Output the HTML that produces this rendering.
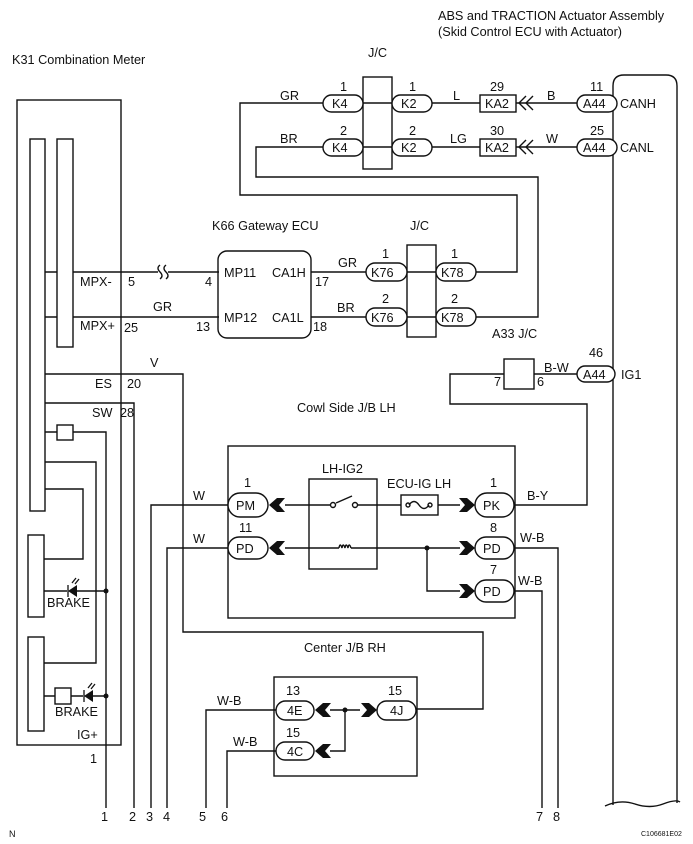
<!DOCTYPE html>
<html><head><meta charset="utf-8"><style>
body{margin:0;background:#fff}
svg{display:block}
text{font-family:"Liberation Sans",Arial,sans-serif;font-size:12.7px;fill:#111}
</style></head><body>
<svg width="693" height="844" viewBox="0 0 693 844" xmlns="http://www.w3.org/2000/svg">
<g fill="none" stroke="#111" stroke-width="1.4">
<rect x="17" y="100" width="104" height="645"/>
<rect x="30" y="139" width="15" height="372"/>
<rect x="57" y="139" width="16" height="208"/>
<rect x="28" y="535" width="16" height="82"/>
<rect x="28" y="637" width="16" height="94"/>
<rect x="57" y="425" width="16" height="15"/>
<rect x="55" y="688" width="16" height="16"/>
<path d="M45 272H57M73 272H158M168 272H219"/>
<path d="M160 265q-4 3 0 7t0 7M166 265q-4 3 0 7t0 7"/>
<path d="M45 317H57M73 317H219"/>
<path d="M45 374H183V632H483V709H416"/>
<path d="M45 403H134V808"/>
<path d="M45 432H57M73 432H106V808"/>
<path d="M45 462H96V663H44"/>
<path d="M45 489H83V559H44"/>
<path d="M44 591H67M77 591H106"/>
<path d="M44 696H55M71 696H83M93 696H106"/>
<path d="M151 808V505H228"/>
<path d="M167 808V548H228"/>
<path d="M206 808V710H276"/>
<path d="M227 808V751H276"/>
<path d="M323 103H240V195H517V272H476"/>
<path d="M323 147H256V177H538V317H476"/>
<rect x="363" y="77" width="29" height="92"/>
<path d="M363 103H392M363 147H392"/>
<path d="M432 103H480M516 103H577M432 147H480M516 147H577"/>
<rect x="480" y="95" width="36" height="17"/>
<rect x="480" y="139" width="36" height="17"/>
<path d="M526 96l-7 7 7 7M533 96l-7 7 7 7M526 140l-7 7 7 7M533 140l-7 7 7 7"/>
<path d="M613 805V86q0-11 11-11H666q11 0 11 11V803"/>
<path d="M605 806q15-7 30-2t28 0 17-2"/>
<rect x="218" y="251" width="93" height="87" rx="9"/>
<path d="M311 272H366M311 317H366"/>
<rect x="407" y="245" width="29" height="92"/>
<path d="M407 272H436M407 317H436"/>
<rect x="504" y="359" width="30" height="30"/>
<path d="M534 374H577M504 374H450V404H587V505H514"/>
<rect x="228" y="446" width="287" height="172"/>
<rect x="309" y="479" width="68" height="90"/>
<path d="M285 505H330M358 505H401M438 505H460"/>
<path d="M336 503L352 496"/>
<circle cx="333" cy="505" r="2.5"/><circle cx="355" cy="505" r="2.5"/>
<rect x="401" y="495" width="37" height="20"/>
<path d="M409 505q5-7 10 0t10 0"/>
<circle cx="408" cy="505" r="2"/><circle cx="430" cy="505" r="2"/>
<path d="M285 548H339M351 548H460"/>
<path d="M339 548q1-6 3 0q1-6 3 0q1-6 3 0q1-6 3 0"/>
<path d="M427 548V591H460"/>
<path d="M514 548H558V808M514 591H542V808"/>
<rect x="274" y="677" width="143" height="99"/>
<path d="M330 710H360M345 710V751H330"/>
</g>
<g fill="#fff" stroke="#111" stroke-width="1.4">
<rect x="323" y="95" width="40" height="17" rx="8.5"/>
<rect x="323" y="139" width="40" height="17" rx="8.5"/>
<rect x="392" y="95" width="40" height="17" rx="8.5"/>
<rect x="392" y="139" width="40" height="17" rx="8.5"/>
<rect x="577" y="95" width="40" height="17" rx="8.5"/>
<rect x="577" y="139" width="40" height="17" rx="8.5"/>
<rect x="366" y="263" width="41" height="18" rx="9"/>
<rect x="366" y="308" width="41" height="18" rx="9"/>
<rect x="436" y="263" width="40" height="18" rx="9"/>
<rect x="436" y="308" width="40" height="18" rx="9"/>
<rect x="577" y="366" width="38" height="16" rx="8"/>
<rect x="228" y="493" width="40" height="24" rx="12"/>
<rect x="228" y="537" width="40" height="22" rx="11"/>
<rect x="475" y="493" width="39" height="24" rx="12"/>
<rect x="475" y="537" width="39" height="22" rx="11"/>
<rect x="475" y="580" width="39" height="22" rx="11"/>
<rect x="276" y="701" width="38" height="19" rx="9.5"/>
<rect x="276" y="742" width="38" height="18" rx="9"/>
<rect x="377" y="701" width="39" height="19" rx="9.5"/>
</g>
<g fill="#111">
<path d="M269 505l8-7h8l-6 7 6 7h-8z"/>
<path d="M269 548l8-7h8l-6 7 6 7h-8z"/>
<path d="M475 505l-8-7h-8l6 7-6 7h8z"/>
<path d="M475 548l-8-7h-8l6 7-6 7h8z"/>
<path d="M475 591l-8-7h-8l6 7-6 7h8z"/>
<path d="M315 710l8-7h8l-6 7 6 7h-8z"/>
<path d="M315 751l8-7h8l-6 7 6 7h-8z"/>
<path d="M377 710l-8-7h-8l6 7-6 7h8z"/>
<circle cx="427" cy="548" r="2.5"/>
<circle cx="345" cy="710" r="2.5"/>
<circle cx="106" cy="591" r="2.5"/>
<circle cx="106" cy="696" r="2.5"/>
<path d="M68 591l9-6v12z"/><path d="M84 696l9-6v12z"/>
</g>
<g stroke="#111" stroke-width="1.3"><path d="M68 585v12M84 690v12M72 583l4-5M75 584l4-5M88 688l4-5M91 689l4-5"/></g>
<text x="438" y="20">ABS and TRACTION Actuator Assembly</text>
<text x="438" y="36">(Skid Control ECU with Actuator)</text>
<text x="12" y="64">K31 Combination Meter</text>
<text x="368" y="57">J/C</text>
<text x="340" y="91">1</text><text x="409" y="91">1</text><text x="490" y="91">29</text><text x="590" y="91">11</text>
<text x="340" y="135">2</text><text x="409" y="135">2</text><text x="490" y="135">30</text><text x="590" y="135">25</text>
<text x="332" y="108">K4</text><text x="401" y="108">K2</text><text x="485" y="108">KA2</text><text x="583" y="108">A44</text>
<text x="332" y="152">K4</text><text x="401" y="152">K2</text><text x="485" y="152">KA2</text><text x="583" y="152">A44</text>
<text x="620" y="108">CANH</text><text x="620" y="152">CANL</text>
<text x="280" y="100">GR</text><text x="453" y="100">L</text><text x="547" y="100">B</text>
<text x="280" y="143">BR</text><text x="450" y="143">LG</text><text x="546" y="143">W</text>
<text x="212" y="230">K66 Gateway ECU</text>
<text x="410" y="230">J/C</text>
<text x="224" y="277">MP11</text><text x="272" y="277">CA1H</text>
<text x="224" y="322">MP12</text><text x="272" y="322">CA1L</text>
<text x="315" y="286">17</text><text x="313" y="331">18</text>
<text x="205" y="286">4</text><text x="196" y="331">13</text>
<text x="338" y="267">GR</text><text x="337" y="312">BR</text>
<text x="382" y="258">1</text><text x="451" y="258">1</text>
<text x="382" y="303">2</text><text x="451" y="303">2</text>
<text x="371" y="277">K76</text><text x="441" y="277">K78</text>
<text x="371" y="322">K76</text><text x="441" y="322">K78</text>
<text x="492" y="338">A33 J/C</text>
<text x="544" y="372">B-W</text>
<text x="589" y="357">46</text>
<text x="583" y="379">A44</text>
<text x="621" y="379">IG1</text>
<text x="494" y="386">7</text><text x="537" y="386">6</text>
<text x="80" y="286">MPX-</text><text x="128" y="286">5</text>
<text x="153" y="311">GR</text>
<text x="80" y="330">MPX+</text><text x="124" y="332">25</text>
<text x="150" y="367">V</text>
<text x="95" y="388">ES</text><text x="127" y="388">20</text>
<text x="92" y="417">SW</text><text x="120" y="417">28</text>
<text x="297" y="412">Cowl Side J/B LH</text>
<text x="322" y="473">LH-IG2</text>
<text x="387" y="488">ECU-IG LH</text>
<text x="244" y="487">1</text><text x="490" y="487">1</text>
<text x="236" y="510">PM</text><text x="483" y="510">PK</text>
<text x="239" y="532">11</text><text x="490" y="532">8</text><text x="490" y="574">7</text>
<text x="236" y="553">PD</text><text x="483" y="553">PD</text><text x="483" y="596">PD</text>
<text x="193" y="500">W</text><text x="193" y="543">W</text>
<text x="527" y="500">B-Y</text><text x="520" y="542">W-B</text><text x="518" y="585">W-B</text>
<text x="47" y="607">BRAKE</text>
<text x="55" y="716">BRAKE</text>
<text x="77" y="739">IG+</text>
<text x="90" y="763">1</text>
<text x="304" y="652">Center J/B RH</text>
<text x="286" y="695">13</text><text x="388" y="695">15</text><text x="286" y="737">15</text>
<text x="287" y="715">4E</text><text x="390" y="715">4J</text><text x="287" y="756">4C</text>
<text x="217" y="705">W-B</text><text x="233" y="746">W-B</text>
<text x="101" y="821">1</text><text x="129" y="821">2</text><text x="146" y="821">3</text><text x="163" y="821">4</text>
<text x="199" y="821">5</text><text x="221" y="821">6</text><text x="536" y="821">7</text><text x="553" y="821">8</text>
<text x="9" y="837" style="font-size:9px">N</text>
<text x="641" y="836" style="font-size:7px">C106681E02</text>
</svg>
</body></html>
